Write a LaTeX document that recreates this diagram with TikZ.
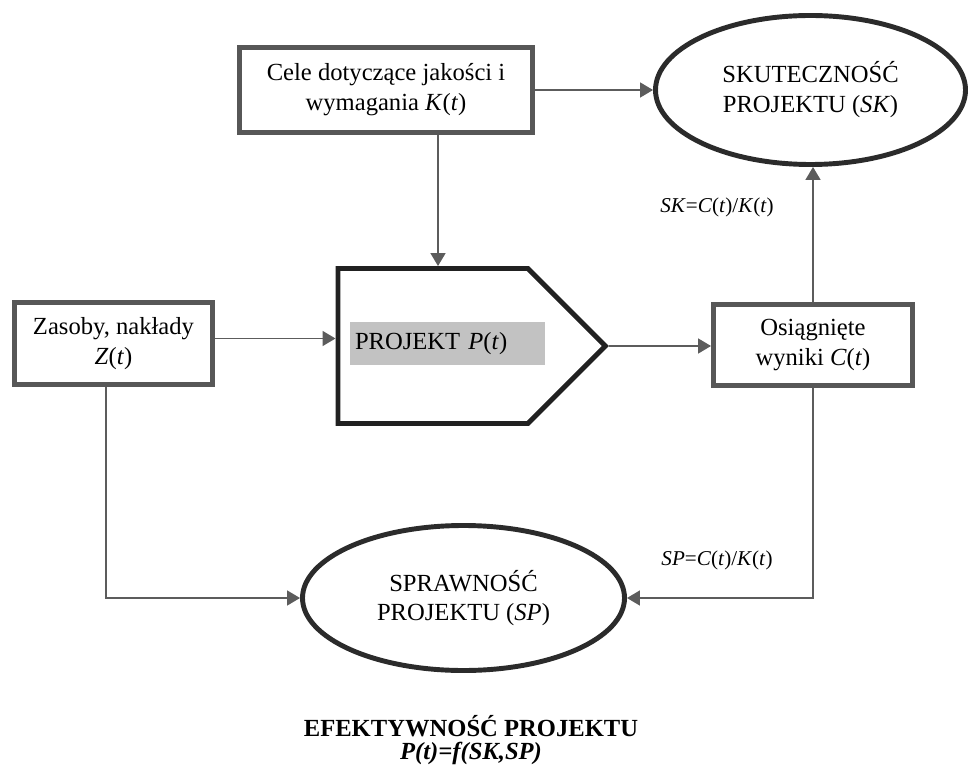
\documentclass[tikz,border=0pt]{standalone}
\usepackage{fontspec}
\setmainfont{Liberation Serif}
\usetikzlibrary{shapes.geometric,shapes.symbols,arrows.meta}
\definecolor{ramka}{HTML}{575757}
\definecolor{linia}{HTML}{5C5C5C}
\definecolor{owal}{HTML}{2B2B2B}
\definecolor{tlo}{HTML}{C2C2C2}
\tikzset{
	blok/.style={draw=ramka,line width=2.8pt,fill=white,align=center,inner sep=2pt},
	owalny/.style={ellipse,draw=owal,line width=2.8pt,align=center,inner sep=0pt},
	strz/.style={draw=linia,line width=0.9pt,-{Triangle[length=2.6mm,width=3mm]}},
	wzor/.style={font=\fontsize{12}{14}\selectfont}
}
\begin{document}
\begin{tikzpicture}[font=\fontsize{14}{17}\selectfont]
	\useasboundingbox (0,0) rectangle (19.38,15.58);
	% bloki
	\node[blok,minimum width=5.86cm,minimum height=1.7cm] (cele) at (7.72,13.78) {Cele dotyczące jakości i\\wymagania \textit{K}(\textit{t})};
	\node[blok,minimum width=3.96cm,minimum height=1.64cm] (zas) at (2.27,8.71) {Zasoby, nakłady\\\textit{Z}(\textit{t})};
	\node[blok,minimum width=3.98cm,minimum height=1.62cm] (osi) at (16.26,8.68) {Osiągnięte\\wyniki \textit{C}(\textit{t})};
	% projekt
	\node[signal,signal to=east,signal pointer angle=90,draw=black!87,line width=2.8pt,minimum width=5.35cm,minimum height=3.1cm,anchor=west] (proj) at (6.71,8.66) {};
	\node[fill=tlo,text width=3.7cm,align=left,inner xsep=0.1cm,minimum height=0.86cm] (projtxt) at (8.95,8.71) {PROJEKT \textit{P}(\textit{t})};
	% owale
	\node[owalny,minimum width=6.2cm,minimum height=2.98cm] (sk) at (16.21,13.78) {SKUTECZNOŚĆ\\PROJEKTU (\textit{SK})};
	\node[owalny,minimum width=6.44cm,minimum height=2.9cm] (sp) at (9.27,3.62) {SPRAWNOŚĆ\\PROJEKTU (\textit{SP})};
	% wzory
	\node[wzor] (wzsk) at (14.34,11.44) {\textit{SK}=\textit{C}(\textit{t})/\textit{K}(\textit{t})};
	\node[wzor] (wzsp) at (14.34,4.38) {\textit{SP}=\textit{C}(\textit{t})/\textit{K}(\textit{t})};
	\node[align=center,font=\fontsize{14}{13}\selectfont\bfseries] (tytul) at (9.42,0.78) {EFEKTYWNOŚĆ PROJEKTU\\\textit{P(t)=f(SK,SP)}};
	% strzalki
	\draw[strz] (cele) -- (sk);
	\draw[strz] ([xshift=1.04cm]cele.south) -- ([xshift=1.04cm]cele.south |- proj.north);
	\draw[strz] ([yshift=0.1cm]zas.east) -- ([yshift=0.1cm]zas.east -| proj.west);
	\draw[strz] (proj.east) -- (proj.east -| osi.west);
	\draw[strz] (osi) -- (osi |- sk.south);
	\draw[strz] (osi.south) |- (sp.east);
	\draw[strz] ([xshift=-0.15cm]zas.south) |- (sp.west);
\end{tikzpicture}
\end{document}
